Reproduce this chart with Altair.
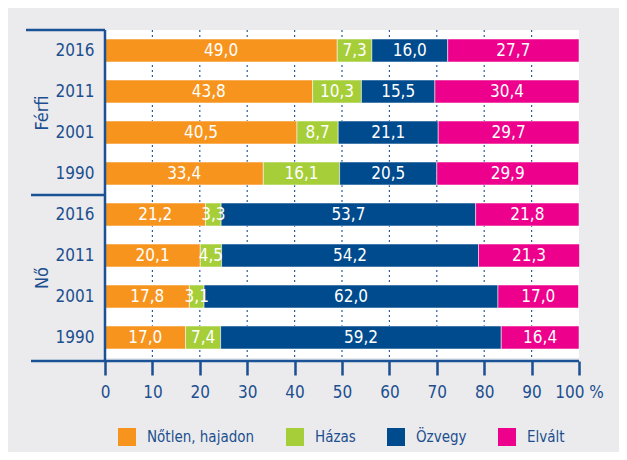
import altair as alt
import pandas as pd

groups = ["Férfi"] * 4 + ["Nő"] * 4
years = ["2016", "2011", "2001", "1990"] * 2
categories = ["Nőtlen, hajadon", "Házas", "Özvegy", "Elvált"]
colors = ["#f7941d", "#a6ce39", "#004b8d", "#ec008c"]

notlen = [49.0, 43.8, 40.5, 33.4, 21.2, 20.1, 17.8, 17.0]
hazas = [7.3, 10.3, 8.7, 16.1, 3.3, 4.5, 3.1, 7.4]
ozvegy = [16.0, 15.5, 21.1, 20.5, 53.7, 54.2, 62.0, 59.2]
elvalt = [27.7, 30.4, 29.7, 29.9, 21.8, 21.3, 17.0, 16.4]
x_ticks = [0, 10, 20, 30, 40, 50, 60, 70, 80, 90, 100]
grid_vals = [10, 20, 30, 40, 50, 60, 70, 80, 90]
group_names = ["Férfi", "Nő"]

series = [notlen, hazas, ozvegy, elvalt]
rows = [f"{g}|{y}" for g, y in zip(groups, years)]
recs = []
for ci, (cat, vals) in enumerate(zip(categories, series)):
    for r, v in zip(rows, vals):
        recs.append({"row": r, "cat": cat, "ord": ci, "value": v,
                     "lbl": f"{v:.1f}".replace(".", ",")})
df = pd.DataFrame(recs)

W, H = 474, 328
BLUE = "#1c4f8f"
FONT = "DejaVu Sans Condensed"

yenc = alt.Y("row:N", sort=rows,
             scale=alt.Scale(paddingInner=0.44, paddingOuter=0.22),
             axis=alt.Axis(title=None, domain=False, ticks=False, labelFontSize=17,
                           labelColor=BLUE, labelFont=FONT, labelPadding=11,
                           labelExpr="split(datum.label, '|')[1]"))

base = alt.Chart(df).transform_stack(
    stack="value", groupby=["row"], as_=["x0", "x1"],
    sort=[alt.SortField("ord", order="ascending")]
).transform_calculate(mid="(datum.x0 + datum.x1) / 2")

xscale = alt.Scale(domain=[0, 100], nice=False)

bars = base.mark_bar(stroke="white", strokeWidth=1, strokeOpacity=0.5).encode(
    x=alt.X("x0:Q", scale=xscale,
            axis=alt.Axis(values=x_ticks, title=None, grid=False, domain=False,
                          offset=3, tickSize=14, tickWidth=2.5, tickColor=BLUE,
                          labelFontSize=17, labelColor=BLUE, labelFont=FONT,
                          labelPadding=9,
                          labelExpr="datum.value == 100 ? '100 %' : datum.label",
                          labelFlush=False)),
    x2="x1:Q",
    y=yenc,
    color=alt.Color("cat:N", scale=alt.Scale(domain=categories, range=colors),
                    legend=alt.Legend(title=None, orient="none", legendX=13, legendY=398,
                                      direction="horizontal", symbolType="square",
                                      symbolSize=324, symbolStrokeWidth=0, symbolOpacity=1,
                                      labelFontSize=15, labelFont=FONT, labelColor=BLUE,
                                      labelOffset=11, columnPadding=31, padding=0)),
)

texts = base.mark_text(color="white", fontSize=17, font=FONT).encode(
    x=alt.X("mid:Q", scale=xscale),
    y=alt.Y("row:N", sort=rows),
    text="lbl:N",
)

grid = alt.Chart(pd.DataFrame({"g": grid_vals})).mark_rule(
    color="#2a5ea0", strokeDash=[2, 3], strokeWidth=1.2
).encode(x=alt.X("g:Q", scale=xscale))

def rule(x, x2, y, y2):
    return alt.Chart(pd.DataFrame({"a": [0]})).mark_rule(
        color="#1a5296", strokeWidth=2.5, clip=False
    ).encode(x=alt.value(x), x2=alt.value(x2), y=alt.value(y), y2=alt.value(y2))

frame = [
    rule(0, 0, 0, H + 3),
    rule(-79, 0, 0, 0),
    rule(-74, 0, 165, 165),
    rule(-74, W, H + 3, H + 3),
]

def glabel(name, ypix):
    return alt.Chart(pd.DataFrame({"t": [name]})).mark_text(
        angle=270, fontSize=18, font=FONT, color=BLUE, clip=False
    ).encode(x=alt.value(-62), y=alt.value(ypix), text="t:N")

chart = alt.layer(grid, bars, texts, *frame,
                  glabel(group_names[0], 83), glabel(group_names[1], 248)).properties(
    width=W, height=H,
    background="#ebebed",
    padding={"left": 97, "top": 22, "right": 40, "bottom": 94},
    autosize=alt.AutoSizeParams(type="none"),
).configure_view(fill="white", stroke=None)

chart.save("out.html", embed_options={"renderer": "svg", "actions": False})
